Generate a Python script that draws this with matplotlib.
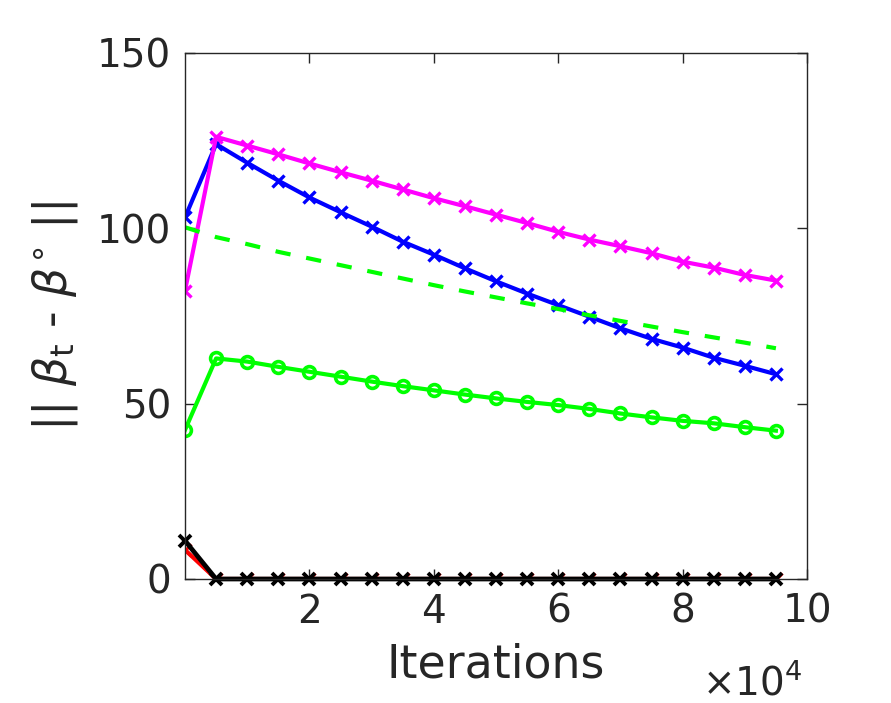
import matplotlib
matplotlib.use("Agg")
import matplotlib.pyplot as plt
import numpy as np

plt.rcParams['font.family'] = ['DejaVu Sans']
plt.rcParams['mathtext.fontset'] = 'dejavusans'
plt.rcParams['lines.scale_dashes'] = False

iterations = np.arange(0, 100000, 5000)

blue_x = [103.1, 124.0, 118.7, 113.6, 108.8, 104.6, 100.5, 96.2, 92.5, 88.6,
          84.9, 81.4, 78.1, 74.8, 71.5, 68.5, 66.0, 63.1, 60.8, 58.4]
magenta_x = [82.2, 126.1, 123.6, 121.1, 118.5, 116.0, 113.6, 111.1, 108.6, 106.3,
             103.9, 101.5, 99.0, 96.8, 94.9, 92.9, 90.5, 88.8, 86.7, 85.1]
green_dashed = [100.3, 97.5, 95.5, 93.3, 91.4, 89.5, 87.6, 85.7, 83.8, 82.0,
                80.3, 78.6, 77.0, 75.2, 73.6, 72.0, 70.4, 68.9, 67.4, 65.8]
green_o = [42.5, 62.9, 62.0, 60.5, 59.1, 57.7, 56.3, 55.0, 53.8, 52.6,
           51.5, 50.5, 49.6, 48.5, 47.2, 46.1, 45.1, 44.4, 43.3, 42.3]
red_x = [8.3] + [0.0] * 19
black_x = [10.9] + [0.0] * 19

x_ticks = [20000, 40000, 60000, 80000, 100000]
x_tick_labels = ['2', '4', '6', '8', '10']
y_ticks = [0, 50, 100, 150]
y_tick_labels = ['0', '50', '100', '150']

txt = '#262626'
fig = plt.figure(figsize=(8.91, 7.03), dpi=100)
ax = fig.add_axes([185/891, 1-579/703, 622/891, 526/703])

lw = 3.0
ax.plot(iterations, blue_x, color='#0000FF', lw=lw, marker='x', ms=8, mew=2.4)
ax.plot(iterations, magenta_x, color='#FF00FF', lw=lw, marker='x', ms=8, mew=2.4)
ax.plot(iterations, green_dashed, color='#00FF00', lw=lw,
        linestyle=(0, (11, 11.5)))
ax.plot(iterations, green_o, color='#00FF00', lw=lw, marker='o', ms=8.5, mew=2.6,
        mfc='none')
ax.plot(iterations, red_x, color='#FF0000', lw=lw, marker='x', ms=8, mew=2.2,
        zorder=1.9)
ax.plot(iterations, black_x, color='#000000', lw=lw + 0.4, marker='x', ms=8.5,
        mew=2.8, clip_on=False)

ax.set_xlim(0, 100000)
ax.set_ylim(0, 150)
ax.set_xticks(x_ticks)
ax.set_xticklabels(x_tick_labels)
ax.set_yticks(y_ticks)
ax.set_yticklabels(y_tick_labels)
ax.tick_params(direction='in', length=7, width=1, colors=txt, labelsize=28,
               top=True, right=True, pad=10)
for s in ax.spines.values():
    s.set_color(txt)
    s.set_linewidth(1.0)

ax.set_xlabel('Iterations', fontsize=33, color=txt, labelpad=8)
ax.set_ylabel(r'|| $\beta_{\rm t}$ - $\beta^{\circ}$ ||', fontsize=33, color=txt,
              labelpad=12)
fig.text(752/891, 1-683/703, r'$\times$10$^{4}$', fontsize=28, color=txt,
         ha='center', va='center')

fig.savefig('out.png', dpi=100)
